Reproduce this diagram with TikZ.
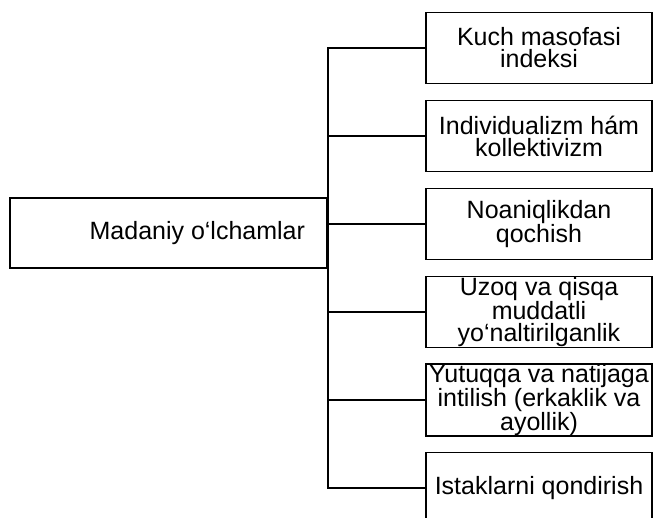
\documentclass[tikz,border=0pt]{standalone}
\usepackage{fontspec}
\setmainfont{Liberation Sans}

\begin{document}
\begin{tikzpicture}[x=1pt,y=-1pt,
    box/.style={draw,line width=1.6pt,align=center,inner sep=0pt,
      minimum width=226pt,minimum height=71pt,
      font=\fontsize{25}{22}\selectfont},
    link/.style={line width=1.6pt}]
  \useasboundingbox (0,0) rectangle (653,517);
  % Main box
  \node[box,minimum width=317pt,minimum height=70pt,text width=273pt,
    align=flush right] (main) at (168.5,233) {Madaniy o‘lchamlar};
  % Dimensions
  \node[box] (power)   at (539,48)  {Kuch masofasi\\indeksi};
  \node[box] (indiv)   at (539,136) {Individualizm hám\\kollektivizm};
  \node[box] (uncert)  at (539,224) {Noaniqlikdan\\qochish};
  \node[box] (longt)   at (539,312) {Uzoq va qisqa\\muddatli\\yo‘naltirilganlik};
  \node[box] (achieve) at (539,400) {Yutuqqa va natijaga\\intilish (erkaklik va\\ayollik)};
  \node[box] (indulg)  at (539,488) {Istaklarni qondirish};
  % Trunk and branches
  \draw[link] (power.west) -- (power.west -| main.east)
    -- (indulg.west -| main.east) -- (indulg.west);
  \draw[link] (indiv.west) -- (indiv.west -| main.east);
  \draw[link] (uncert.west) -- (uncert.west -| main.east);
  \draw[link] (longt.west) -- (longt.west -| main.east);
  \draw[link] (achieve.west) -- (achieve.west -| main.east);
\end{tikzpicture}
\end{document}
